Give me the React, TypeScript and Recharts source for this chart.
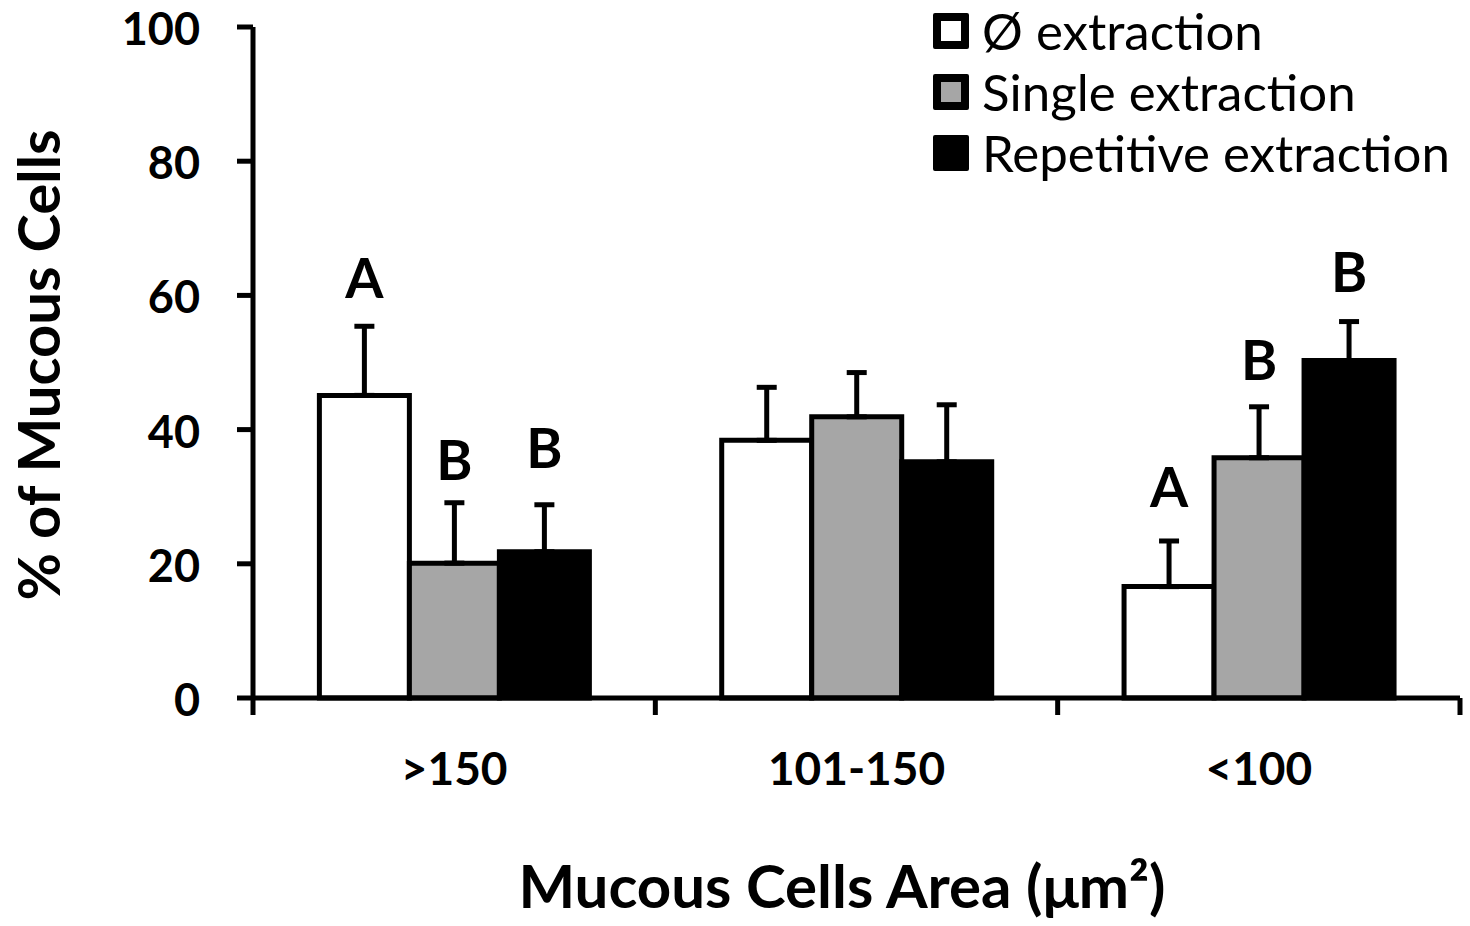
import { Bar, BarChart, ErrorBar, LabelList, Legend, XAxis, YAxis } from "recharts";

const CATEGORIES = [">150", "101-150", "<100"];
const SERIES_NAMES = ["Ø extraction", "Single extraction", "Repetitive extraction"];

const NONE_MEANS = [45.1, 38.4, 16.6];
const NONE_ERRORS = [10.3, 7.9, 6.8];
const SINGLE_MEANS = [20.1, 41.9, 35.8];
const SINGLE_ERRORS = [9.0, 6.6, 7.6];
const REPEAT_MEANS = [21.8, 35.2, 50.3];
const REPEAT_ERRORS = [7.0, 8.5, 5.8];

// significance letters and where their baseline sits (in % units)
const NONE_LETTERS = ["A", "", "A"];
const SINGLE_LETTERS = ["B", "", "B"];
const REPEAT_LETTERS = ["B", "", "B"];
const NONE_LETTER_Y = [59.6, 0, 28.5];
const SINGLE_LETTER_Y = [32.5, 0, 47.4];
const REPEAT_LETTER_Y = [34.3, 0, 60.5];

const Y_TICKS = [0, 20, 40, 60, 80, 100];

const FONT = "Lato, 'Noto Sans', sans-serif";
const FILLS = ["#ffffff", "#a6a6a6", "#000000"];

const data = CATEGORIES.map((cat, i) => ({
  cat,
  none: NONE_MEANS[i],
  noneErr: [0, NONE_ERRORS[i]],
  noneLetter: NONE_LETTERS[i],
  single: SINGLE_MEANS[i],
  singleErr: [0, SINGLE_ERRORS[i]],
  singleLetter: SINGLE_LETTERS[i],
  repeat: REPEAT_MEANS[i],
  repeatErr: [0, REPEAT_ERRORS[i]],
  repeatLetter: REPEAT_LETTERS[i],
}));

const makeLetter = (means: number[], letterY: number[]) => (props: any) => {
  const { value, index } = props;
  if (!value) return null;
  const box = props.viewBox && props.viewBox.width != null ? props.viewBox : props;
  const { x, y, width, height } = box;
  const perUnit = height / means[index];
  const base = y + height;
  return (
    <text
      x={x + width / 2}
      y={base - letterY[index] * perUnit}
      textAnchor="middle"
      fontFamily={FONT}
      fontWeight={700}
      fontSize={55}
      fill="#000"
    >
      {value}
    </text>
  );
};

const CategoryTick = (props: any) => {
  const { x, y, payload, index } = props;
  const half = payload && payload.offset ? payload.offset : 201;
  const last = index === CATEGORIES.length - 1;
  return (
    <g>
      <line x1={x - half} x2={x - half} y1={y} y2={y + 17} stroke="#000" strokeWidth={5} />
      {last && <line x1={x + half} x2={x + half} y1={y} y2={y + 17} stroke="#000" strokeWidth={5} />}
      <text x={x} y={y + 87} textAnchor="middle" fontFamily={FONT} fontWeight={700} fontSize={46} fill="#000">
        {payload.value}
      </text>
    </g>
  );
};

const ValueTick = (props: any) => {
  const { x, y, payload } = props;
  return (
    <text
      x={x}
      y={y + 18}
      textAnchor="end"
      fontFamily={FONT}
      fontWeight={700}
      fontSize={45}
      fill="#000"
    >
      {payload.value}
    </text>
  );
};

const LegendBox = () => (
  <div style={{ fontFamily: FONT, fontSize: 51, color: "#000" }}>
    {SERIES_NAMES.map((name, i) => (
      <div key={name} style={{ display: "flex", alignItems: "center", height: 61, lineHeight: "61px" }}>
        <div
          style={{
            width: 36,
            height: 36,
            boxSizing: "border-box",
            border: "8px solid #000",
            borderRadius: 2,
            background: FILLS[i],
            marginRight: 13,
          }}
        />
        <span style={{ whiteSpace: "nowrap" }}>{name}</span>
      </div>
    ))}
  </div>
);

export default function App() {
  return (
    <div style={{ position: "absolute", left: 0, top: 0, width: 1470, height: 926, background: "#fff" }}>
      <BarChart
        width={1470}
        height={926}
        data={data}
        margin={{ top: 27, right: 10, left: 0, bottom: 0 }}
        barCategoryGap="16.5%"
        barGap={0}
      >
        <XAxis
          dataKey="cat"
          height={228}
          tickLine={false}
          tickSize={0}
          tickMargin={0}
          axisLine={{ stroke: "#000", strokeWidth: 5 }}
          tick={<CategoryTick />}
          interval={0}
          label={{
            content: () => (
              <text x={842} y={908} textAnchor="middle" fontFamily={FONT} fontWeight={700} fontSize={60} fill="#000">
                Mucous Cells Area (μm²)
              </text>
            ),
          }}
        />
        <YAxis
          width={253}
          domain={[0, 100]}
          ticks={Y_TICKS}
          interval={0}
          tickSize={16}
          tickMargin={37}
          axisLine={{ stroke: "#000", strokeWidth: 5 }}
          tickLine={{ stroke: "#000", strokeWidth: 5 }}
          tick={<ValueTick />}
          label={{
            content: () => (
              <text
                transform="translate(60,365) rotate(-90)"
                textAnchor="middle"
                fontFamily={FONT}
                fontWeight={700}
                fontSize={58}
                fill="#000"
              >
                % of Mucous Cells
              </text>
            ),
          }}
        />
        <Legend
          layout="vertical"
          align="center"
          verticalAlign="middle"
          content={<LegendBox />}
          wrapperStyle={{ top: 0, left: 933, width: 537, height: 183 }}
        />
        <Bar dataKey="none" name={SERIES_NAMES[0]} fill={FILLS[0]} stroke="#000" strokeWidth={5} isAnimationActive={false}>
          <ErrorBar dataKey="noneErr" direction="y" width={10} stroke="#000" strokeWidth={5} />
          <LabelList dataKey="noneLetter" content={makeLetter(NONE_MEANS, NONE_LETTER_Y)} />
        </Bar>
        <Bar dataKey="single" name={SERIES_NAMES[1]} fill={FILLS[1]} stroke="#000" strokeWidth={5} isAnimationActive={false}>
          <ErrorBar dataKey="singleErr" direction="y" width={10} stroke="#000" strokeWidth={5} />
          <LabelList dataKey="singleLetter" content={makeLetter(SINGLE_MEANS, SINGLE_LETTER_Y)} />
        </Bar>
        <Bar dataKey="repeat" name={SERIES_NAMES[2]} fill={FILLS[2]} stroke="#000" strokeWidth={5} isAnimationActive={false}>
          <ErrorBar dataKey="repeatErr" direction="y" width={10} stroke="#000" strokeWidth={5} />
          <LabelList dataKey="repeatLetter" content={makeLetter(REPEAT_MEANS, REPEAT_LETTER_Y)} />
        </Bar>
      </BarChart>
    </div>
  );
}
